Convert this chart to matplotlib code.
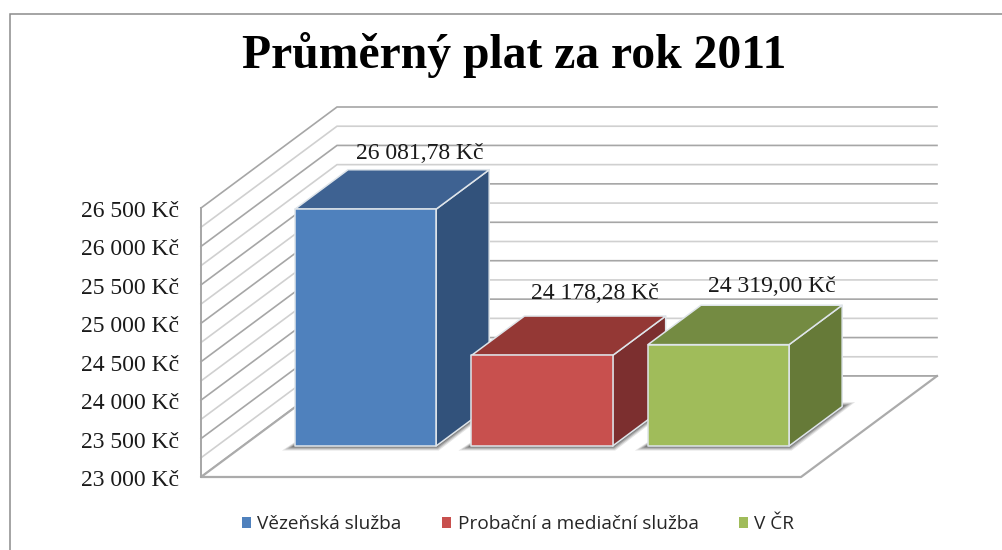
import matplotlib
matplotlib.use("Agg")
import matplotlib.pyplot as plt
from matplotlib.patches import Polygon, Rectangle, Patch
from matplotlib.transforms import Affine2D

categories = ["Vězeňská služba", "Probační a mediační služba", "V ČR"]
values = [26081.78, 24178.28, 24319.00]
value_labels = ["26 081,78 Kč", "24 178,28 Kč", "24 319,00 Kč"]
front_colors = ["#4f81bd", "#c8504e", "#a0bc5a"]
top_colors = ["#3e6292", "#943835", "#748b42"]
side_colors = ["#32527b", "#7c2f2f", "#667a38"]
y_ticks = [23000, 23500, 24000, 24500, 25000, 25500, 26000, 26500]
y_grid = [23000 + 250 * i for i in range(15)]

W, H = 1002, 550
YMIN, YMAX = 23000, 26500
XMIN, XMAX = -0.70, 2.70
BAR_W = 0.80

fig = plt.figure(figsize=(W / 100, H / 100), dpi=100, facecolor="white")
ax = fig.add_axes([201 / W, 1 - 477 / H, 600 / W, 269 / H])
ax.set_xlim(XMIN, XMAX)
ax.set_ylim(YMIN, YMAX)

px_x = 600 / (XMAX - XMIN)
px_y = 269 / (YMAX - YMIN)


def project(x, y, d):
    # d = 0 front of the floor, d = 1 back wall
    return x + d * 136 / px_x, y + d * 101 / px_y


def poly(points, **kw):
    p = Polygon(points, closed=True, clip_on=False, **kw)
    ax.add_patch(p)
    return p


# walls
for v in y_grid:
    major = v % 500 == 0
    col = "#a6a6a6" if major else "#d0d0d0"
    a = project(XMIN, v, 0)
    b = project(XMIN, v, 1)
    c = project(XMAX, v, 1)
    ax.plot([a[0], b[0], c[0]], [a[1], b[1], c[1]], color=col, lw=1.2,
            clip_on=False, zorder=1, solid_joinstyle="miter")

# floor
poly([project(XMIN, YMIN, 0), project(XMAX, YMIN, 0), project(XMAX, YMIN, 1), project(XMIN, YMIN, 1)],
     facecolor="white", edgecolor="none", zorder=1.5)
f0, f1, f2, f3 = project(XMIN, YMIN, 1), project(XMIN, YMIN, 0), project(XMAX, YMIN, 0), project(XMAX, YMIN, 1)
ax.plot([f0[0], f1[0], f2[0], f3[0]], [f0[1], f1[1], f2[1], f3[1]], color="#ababab", lw=1.6,
        clip_on=False, zorder=1.6)
ax.plot([XMIN, XMIN], [YMIN, YMAX], color="#a6a6a6", lw=1.4, clip_on=False, zorder=1.6)
back = project(XMIN, YMIN, 1)
end = project(XMAX, YMIN, 1)
ax.plot([back[0], end[0]], [back[1], end[1]], color="#a6a6a6", lw=1.2, clip_on=False, zorder=1.6)

# bars
D0, D1 = 0.307, 0.697
for i, val in enumerate(values):
    x0, x1 = i - BAR_W / 2 - 0.004, i + BAR_W / 2 - 0.004
    z = 2 + i

    # soft shadow on the floor
    for grow, alpha in [(13, 0.14), (10, 0.2), (7, 0.28), (4, 0.36)]:
        gx = grow / px_x
        gy = grow * 0.35 / px_y
        poly([(project(x0, YMIN, D0)[0] - gx, project(x0, YMIN, D0)[1] - gy),
              (project(x1, YMIN, D0)[0] + gx * 0.2, project(x1, YMIN, D0)[1] - gy),
              (project(x1, YMIN, D1)[0] + gx, project(x1, YMIN, D1)[1] + gy),
              project(x0, YMIN, D1)],
             facecolor="#404040", edgecolor="none", alpha=alpha, zorder=z)

    edge = dict(edgecolor="#dfe5ea", lw=1.1, joinstyle="round", zorder=z + 0.5)
    poly([project(x1, YMIN, D0), project(x1, YMIN, D1), project(x1, val, D1), project(x1, val, D0)],
         facecolor=side_colors[i], **edge)
    poly([project(x0, val, D0), project(x1, val, D0), project(x1, val, D1), project(x0, val, D1)],
         facecolor=top_colors[i], **edge)
    poly([project(x0, YMIN, D0), project(x1, YMIN, D0), project(x1, val, D0), project(x0, val, D0)],
         facecolor=front_colors[i], **edge)

    lx, ly = project(i, val, D1)
    ax.annotate(value_labels[i], (lx, ly), xytext=([0, -1, 0][i], [11.5, 16.5, 13.5][i]),
                textcoords="offset points", ha="center", va="center",
                family="Liberation Serif", fontsize=17, color="#1a1a1a", zorder=10,
                annotation_clip=False)

# axes
for s in ax.spines.values():
    s.set_visible(False)
ax.patch.set_visible(False)
ax.set_xticks([])
ax.set_yticks(y_ticks)
ax.set_yticklabels([f"{v // 1000} {v % 1000:03d} Kč" for v in y_ticks],
                   family="Liberation Serif", fontsize=17, color="#1a1a1a")
ax.tick_params(axis="y", length=0, pad=16)
for t in ax.get_yticklabels():
    t.set_transform(t.get_transform() + Affine2D().translate(0, -1))

fig.text(514.5 / W, 1 - 55 / H, "Průměrný plat za rok 2011", ha="center", va="center",
         family="Liberation Serif", weight="bold", fontsize=34.3, color="black")

# chart border
fig.add_artist(Rectangle((9.5 / W, -0.1), 1.2, 1.1 - 13.5 / H, transform=fig.transFigure,
                         facecolor="none", edgecolor="#8c8c8c", lw=1.1))

handles = [Patch(facecolor=c, edgecolor="none") for c in front_colors]
fig.legend(handles, categories, loc="center", bbox_to_anchor=(518 / W, 1 - 524 / H), ncol=3,
           frameon=False, prop={"family": "Open Sans", "size": 13.7}, labelcolor="#262626",
           handlelength=0.48, handleheight=0.48, handletextpad=0.36, columnspacing=2.1)

fig.savefig("out.png", dpi=100)
